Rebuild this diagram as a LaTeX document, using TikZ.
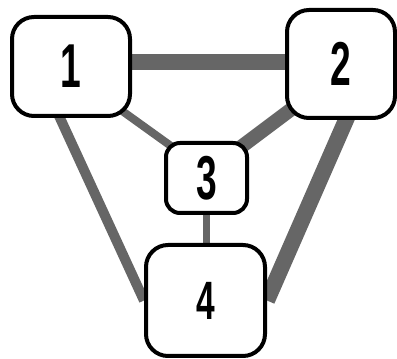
\documentclass[tikz,border=0pt]{standalone}
\usepackage{fontspec}
\setmainfont{Liberation Sans}
\usetikzlibrary{calc, backgrounds}

\begin{document}
\begin{tikzpicture}[x=1pt, y=1pt,
  bigbox/.style={draw, line width=4pt, rounded corners=22pt, fill=white, inner sep=0pt},
  smallbox/.style={draw, line width=4pt, rounded corners=14pt, fill=white, inner sep=0pt},
  link/.style={draw=black!60, line cap=butt},
  digit/.style={font=\bfseries\fontsize{62}{62}\selectfont}]
  \useasboundingbox (0,0) rectangle (397,359);
  % the four boxes
  \node[bigbox, digit, minimum width=118pt, minimum height=99pt] (n1) at (71,292.5) {\scalebox{0.6}[1]{1}};
  \node[bigbox, digit, minimum width=108pt, minimum height=108pt] (n2) at (341,295) {\scalebox{0.6}[1]{2}};
  \node[smallbox, digit, minimum width=81pt, minimum height=70pt] (n3) at (206.5,181) {\scalebox{0.6}[1]{3}};
  \node[bigbox, font=\fontsize{54}{54}\selectfont, minimum width=119pt, minimum height=111pt] (n4) at (205.5,58.5) {\scalebox{0.62}[1]{\textbf{4}}};
  % links, behind the boxes
  \begin{pgfonlayer}{background}
  \path[link, line width=16pt] ([yshift=4pt]n1.east) -- ([yshift=4pt]n1.east -| n2.west);
  \path[link, line width=8pt, shorten <=-12pt, shorten >=-12pt] (n1.south east) -- (n3.north west);
  \path[link, line width=14pt, shorten <=-12pt, shorten >=-12pt] ([yshift=6pt]n2.south west) -- (n3.north east);
  \path[link, line width=7pt] (n3.south) -- (n3.south |- n4.north);
  \path[link, line width=10pt, shorten <=-4pt] ([xshift=-11pt]n1.south) -- (n4.west);
  \path[link, line width=16pt, shorten <=-4pt] ([xshift=5pt]n2.south) -- (n4.east);
  \end{pgfonlayer}
\end{tikzpicture}
\end{document}
